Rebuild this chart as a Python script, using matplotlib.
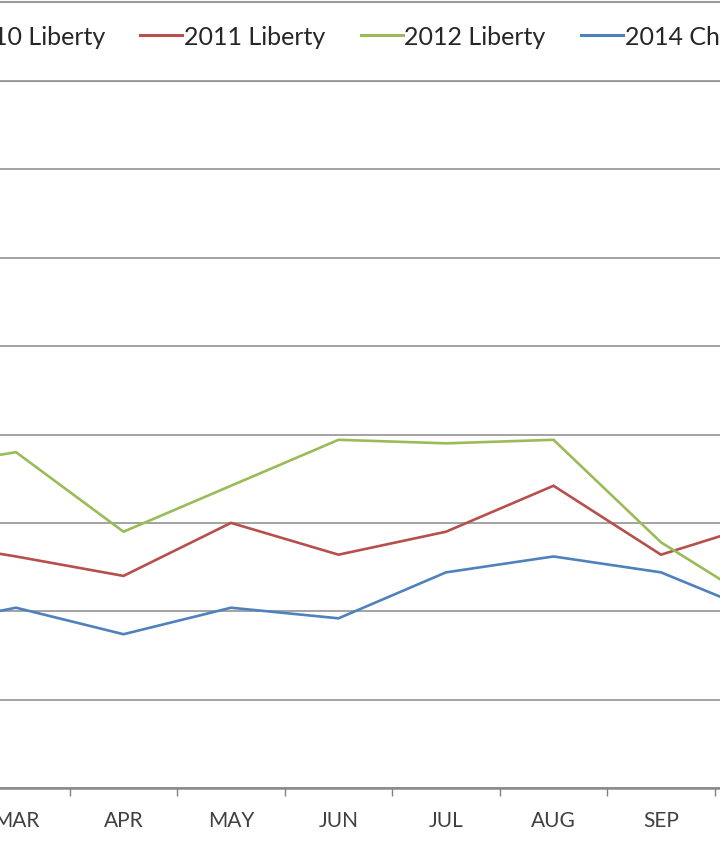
import numpy as np
import matplotlib
matplotlib.use("Agg")
import matplotlib.pyplot as plt
from matplotlib.ticker import FixedLocator, NullFormatter

# ---- data (visible part of the chart) ----
months = ["FEB", "MAR", "APR", "MAY", "JUN", "JUL", "AUG", "SEP", "OCT"]
series_labels = ["2010 Liberty", "2011 Liberty", "2012 Liberty", "2014 Cherokee"]
liberty_2010 = [np.nan] * 9  # no visible data in this crop
liberty_2011 = [141, 131, 120, 150, 132, 145, 171, 132, 151]
liberty_2012 = [180, 190, 145, 171, 197, 195, 197, 139, 101]
cherokee_2014 = [90, 102, 87, 102, 96, 122, 131, 122, 97]
colors = ["#8064A2", "#B5504D", "#9BBB59", "#4F81BD"]

plt.rcParams['font.family'] = ['Lato', 'DejaVu Sans']

W, H = 720, 845
fig = plt.figure(figsize=(W / 100, H / 100), dpi=100)
fig.patch.set_facecolor("white")

ax_bottom = (H - 789) / H
ax_top = (H - 82) / H
ax = fig.add_axes([0, ax_bottom, 1, ax_top - ax_bottom])

x = np.arange(len(months))
for vals, lab, col in zip([liberty_2010, liberty_2011, liberty_2012, cherokee_2014],
                          series_labels, colors):
    ax.plot(x, vals, color=col, lw=1.9, label=lab, solid_joinstyle="miter", zorder=3)

ax.set_yticks(np.arange(0, 401, 50))
ax.yaxis.grid(True, color="#8a8a8a", lw=1.1)
ax.tick_params(axis="y", left=False, labelleft=False)
ax.set_axisbelow(True)

ax.set_xticks(x)
ax.set_xticklabels(months)
ax.xaxis.set_minor_locator(FixedLocator(np.arange(-0.5, len(months) + 0.5, 1)))
ax.xaxis.set_minor_formatter(NullFormatter())
ax.tick_params(axis="x", which="major", length=0, pad=16, labelsize=15, labelcolor="#404040")
ax.tick_params(axis="x", which="minor", length=6, width=1.0, color="#808080", direction="out")

# category spacing: 107.5 px, MAR centred at px 16
px_per_cat = 107.5
x0 = 1 - 16 / px_per_cat
ax.set_xlim(x0, x0 + W / px_per_cat)
ax.set_ylim(0, 400)

for s in ["left", "right"]:
    ax.spines[s].set_visible(False)
ax.spines["top"].set_color("#8a8a8a")
ax.spines["top"].set_linewidth(1.1)
ax.spines["bottom"].set_color("#8a8a8a")
ax.spines["bottom"].set_linewidth(1.8)

# top edge of the legend box (box runs past both figure edges), 79 px above the plot
ax_h_px = 789 - 82
ax.axhline(400 * (1 + 79 / ax_h_px), xmin=0, xmax=1,
           color="#999999", lw=1.5, clip_on=False)

fs = 18
fs_px = fs * 100 / 72
leg = fig.legend(loc="upper left", bbox_to_anchor=(-105 / W, 1 - 1 / H),
                 bbox_transform=fig.transFigure, ncol=4, fontsize=fs,
                 frameon=False, borderaxespad=0, borderpad=1.0,
                 handlelength=42 / fs_px, handletextpad=2 / fs_px,
                 columnspacing=35 / fs_px, labelcolor="#262626")
for h in leg.legend_handles:
    h.set_linewidth(2.2)

fig.savefig("out.png", dpi=100)
